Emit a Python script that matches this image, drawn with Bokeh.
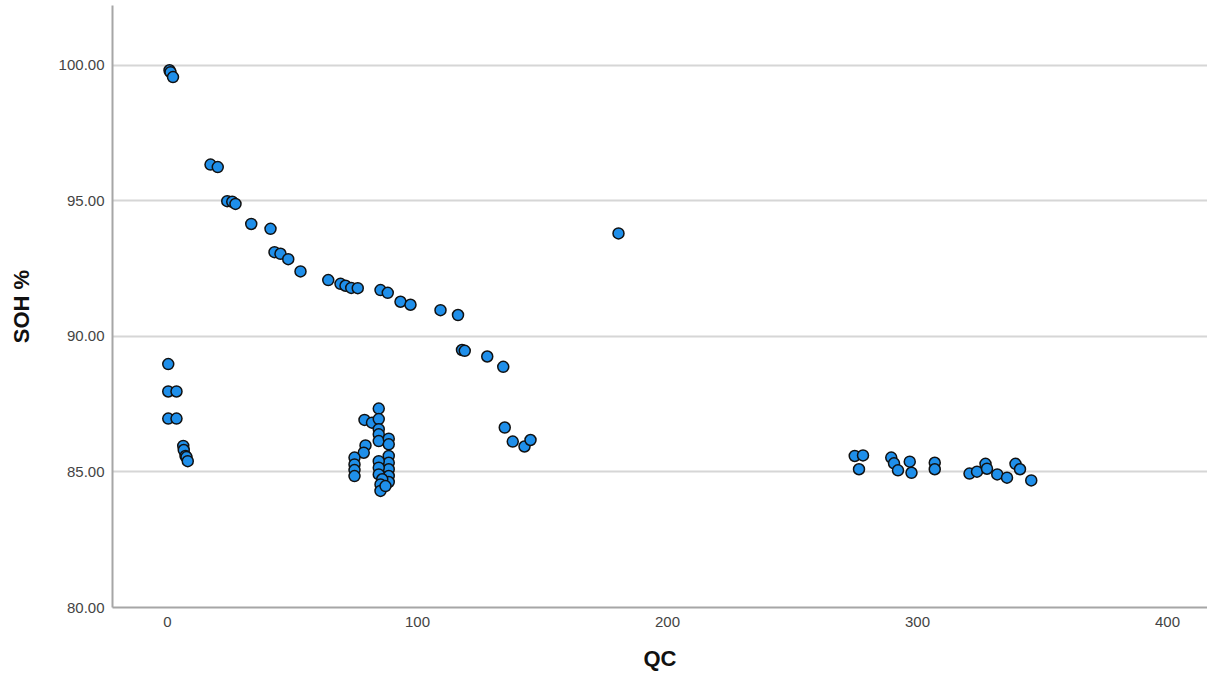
from bokeh.plotting import figure
from bokeh.models import ColumnDataSource, Range1d, FixedTicker, CustomJSTickFormatter
from bokeh.embed import file_html
from bokeh.resources import INLINE

# QC values (x) and SOH % values (y)
qc_top = [0.8, 1.2, 2.2, 17.2, 20.1, 23.9, 25.9, 27.2, 33.5, 41.2, 42.8, 45.2, 48.3, 53.2,
          64.3, 69.2, 71.2, 73.5, 76.1, 85.2, 88.1, 93.2, 97.2, 109.2, 116.2,
          117.8, 118.9, 127.9, 134.3, 134.9, 138.1, 142.8, 145.2, 180.4]
soh_top = [99.82, 99.75, 99.57, 96.34, 96.25, 94.99, 94.97, 94.89, 94.15, 93.97, 93.11, 93.05, 92.85, 92.4,
           92.08, 91.94, 91.87, 91.79, 91.78, 91.71, 91.61, 91.28, 91.17, 90.97, 90.79,
           89.5, 89.47, 89.26, 88.88, 86.64, 86.12, 85.94, 86.18, 93.8]

qc_left = [0.3, 0.3, 3.6, 0.3, 3.6, 6.3, 6.5, 7.2, 7.6, 8.1]
soh_left = [88.98, 87.97, 87.97, 86.97, 86.97, 85.96, 85.81, 85.59, 85.55, 85.4]

qc_mid = [84.5, 78.8, 81.8, 84.5, 84.5, 84.5, 84.5, 88.5, 88.5, 79.2, 78.5,
          74.8, 74.8, 74.8, 74.8, 88.5, 88.5, 88.5, 88.5, 88.5,
          84.5, 84.5, 84.5, 85.9, 85.2, 85.2, 87.2]
soh_mid = [87.34, 86.92, 86.82, 86.95, 86.58, 86.39, 86.14, 86.23, 86.02, 85.98, 85.71,
           85.53, 85.28, 85.07, 84.85, 85.59, 85.34, 85.1, 84.85, 84.63,
           85.4, 85.16, 84.91, 84.73, 84.54, 84.3, 84.48]

qc_right = [274.9, 278.2, 276.6, 289.5, 290.6, 292.2, 296.9, 297.6, 306.9, 306.9,
            320.8, 323.8, 327.2, 327.8, 331.9, 335.8, 339.2, 341.0, 345.5]
soh_right = [85.59, 85.61, 85.1, 85.53, 85.32, 85.06, 85.38, 84.97, 85.34, 85.1,
             84.94, 85.01, 85.3, 85.12, 84.91, 84.79, 85.3, 85.1, 84.69]

x_ticks = [0, 100, 200, 300, 400]
y_ticks = [80, 85, 90, 95, 100]

qc = qc_top + qc_left + qc_mid + qc_right
soh = soh_top + soh_left + soh_mid + soh_right
src = ColumnDataSource(dict(qc=qc, soh=soh))

p = figure(width=1207, height=675, output_backend="svg", toolbar_location=None,
           x_range=Range1d(-22.0, 416.0), y_range=Range1d(80, 102.21),
           min_border_left=112, min_border_right=0, min_border_top=5, min_border_bottom=68)
p.outline_line_color = None
p.background_fill_color = "white"
p.border_fill_color = "white"

p.scatter("qc", "soh", source=src, size=11, fill_color="#1f8fea",
          line_color="#111111", line_width=1.5)

for ax in (p.xaxis[0], p.yaxis[0]):
    ax.axis_line_color = "#a6a6a6"
    ax.axis_line_width = 2
    ax.major_tick_line_color = None
    ax.minor_tick_line_color = None
    ax.major_tick_out = 0
    ax.major_tick_in = 0
    ax.minor_tick_out = 0
    ax.minor_tick_in = 0
    ax.major_label_text_font = "Liberation Sans"
    ax.major_label_text_font_size = "15px"
    ax.major_label_text_color = "#444444"
    ax.axis_label_text_font = "Liberation Sans"
    ax.axis_label_text_font_size = "22px"
    ax.axis_label_text_font_style = "bold"
    ax.axis_label_text_color = "#111111"

p.xaxis.ticker = FixedTicker(ticks=x_ticks)
p.yaxis.ticker = FixedTicker(ticks=y_ticks)
p.yaxis.formatter = CustomJSTickFormatter(code="return tick.toFixed(2);")
p.xaxis.axis_label = "QC"
p.yaxis.axis_label = "SOH %"
p.xaxis.major_label_standoff = 9
p.xaxis.axis_label_standoff = 16
p.yaxis.major_label_standoff = 8
p.yaxis.axis_label_standoff = 22

p.xgrid.grid_line_color = None
p.ygrid.grid_line_color = "#d6d6d6"
p.ygrid.grid_line_width = 2

open("out.html", "w").write(file_html(p, INLINE))
